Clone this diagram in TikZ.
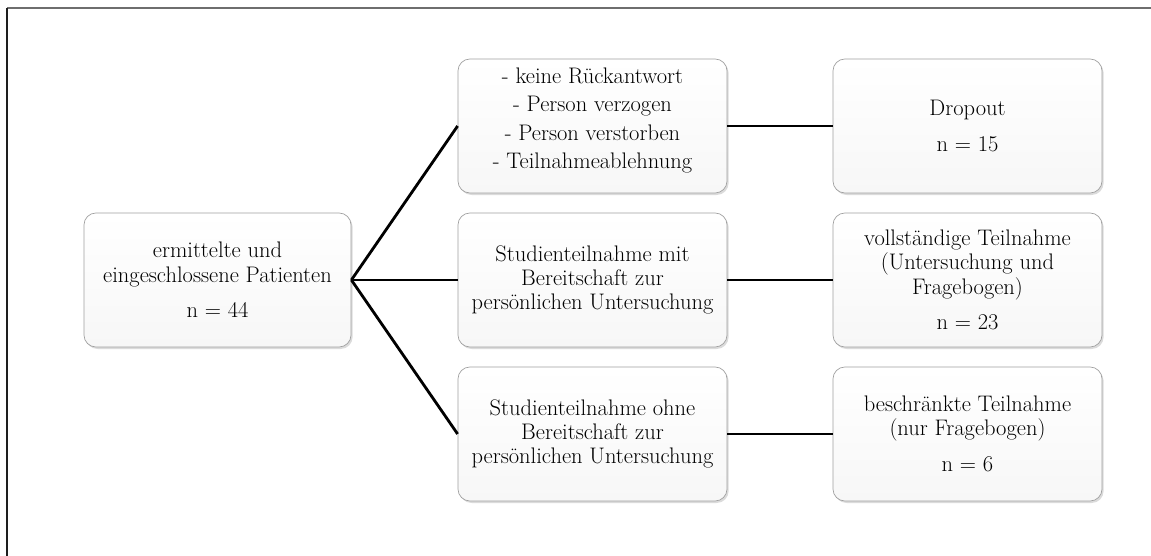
\documentclass[tikz,border=0pt]{standalone}
\usepackage{xcolor}
\definecolor{boxline}{HTML}{A0A0A0}
\definecolor{boxfill}{HTML}{F7F7F7}
\definecolor{frametop}{HTML}{6E6E6E}
\definecolor{frameleft}{HTML}{1E1E1E}
\usepackage{tikz}
\usetikzlibrary{shadows, positioning, calc}

\tikzset{
  stagebox/.style={draw=boxline, line width=0.5pt, rounded corners=0.3cm,
    top color=white, bottom color=boxfill, align=center,
    minimum width=6.725cm, minimum height=3.35cm, inner sep=2pt,
    font=\fontsize{16}{17.3}\selectfont,
    drop shadow={shadow xshift=0.04cm, shadow yshift=-0.05cm, opacity=0.4, fill=gray!70}},
  flowline/.style={line width=2pt, black}
}

\begin{document}
\begin{tikzpicture}[x=0.025cm, y=0.025cm]

  % Frame and size
  \useasboundingbox (0,0) rectangle (1151,556);
  \draw[frametop, line width=1.2pt] (7,548) -- (1151,548);
  \draw[frameleft, line width=1.2pt] (7,548) -- (7,0);

  \def\rowA{430}
  \def\rowB{276}
  \def\rowC{122}

  % Start box
  \node[stagebox, minimum width=6.675cm] (start) at (217.5,\rowB)
    {ermittelte und\\eingeschlossene Patienten\\[8pt]n = 44};

  % Middle column
  \node[stagebox] (noreply) at (592.5,\rowA)
    {- keine Rückantwort\\[3pt]- Person verzogen\\[3pt]- Person verstorben\\[3pt]- Teilnahmeablehnung\\[-6pt]};
  \node[stagebox] (withexam) at (592.5,\rowB)
    {Studienteilnahme mit\\Bereitschaft zur\\persönlichen Untersuchung};
  \node[stagebox] (noexam) at (592.5,\rowC)
    {Studienteilnahme ohne\\Bereitschaft zur\\persönlichen Untersuchung};

  % Right column
  \node[stagebox] (dropout) at (967.5,\rowA)
    {Dropout\\[8pt]n = 15};
  \node[stagebox] (full) at (967.5,\rowB)
    {vollständige Teilnahme\\(Untersuchung und\\Fragebogen)\\[8pt]n = 23};
  \node[stagebox] (partial) at (967.5,\rowC)
    {beschränkte Teilnahme\\(nur Fragebogen)\\[8pt]n = 6};

  % Connectors
  \draw[flowline] (start.east) -- (noreply.west);
  \draw[flowline] (start.east) -- (withexam.west);
  \draw[flowline] (start.east) -- (noexam.west);
  \draw[flowline] (noreply) -- (dropout);
  \draw[flowline] (withexam) -- (full);
  \draw[flowline] (noexam) -- (partial);
\end{tikzpicture}
\end{document}
